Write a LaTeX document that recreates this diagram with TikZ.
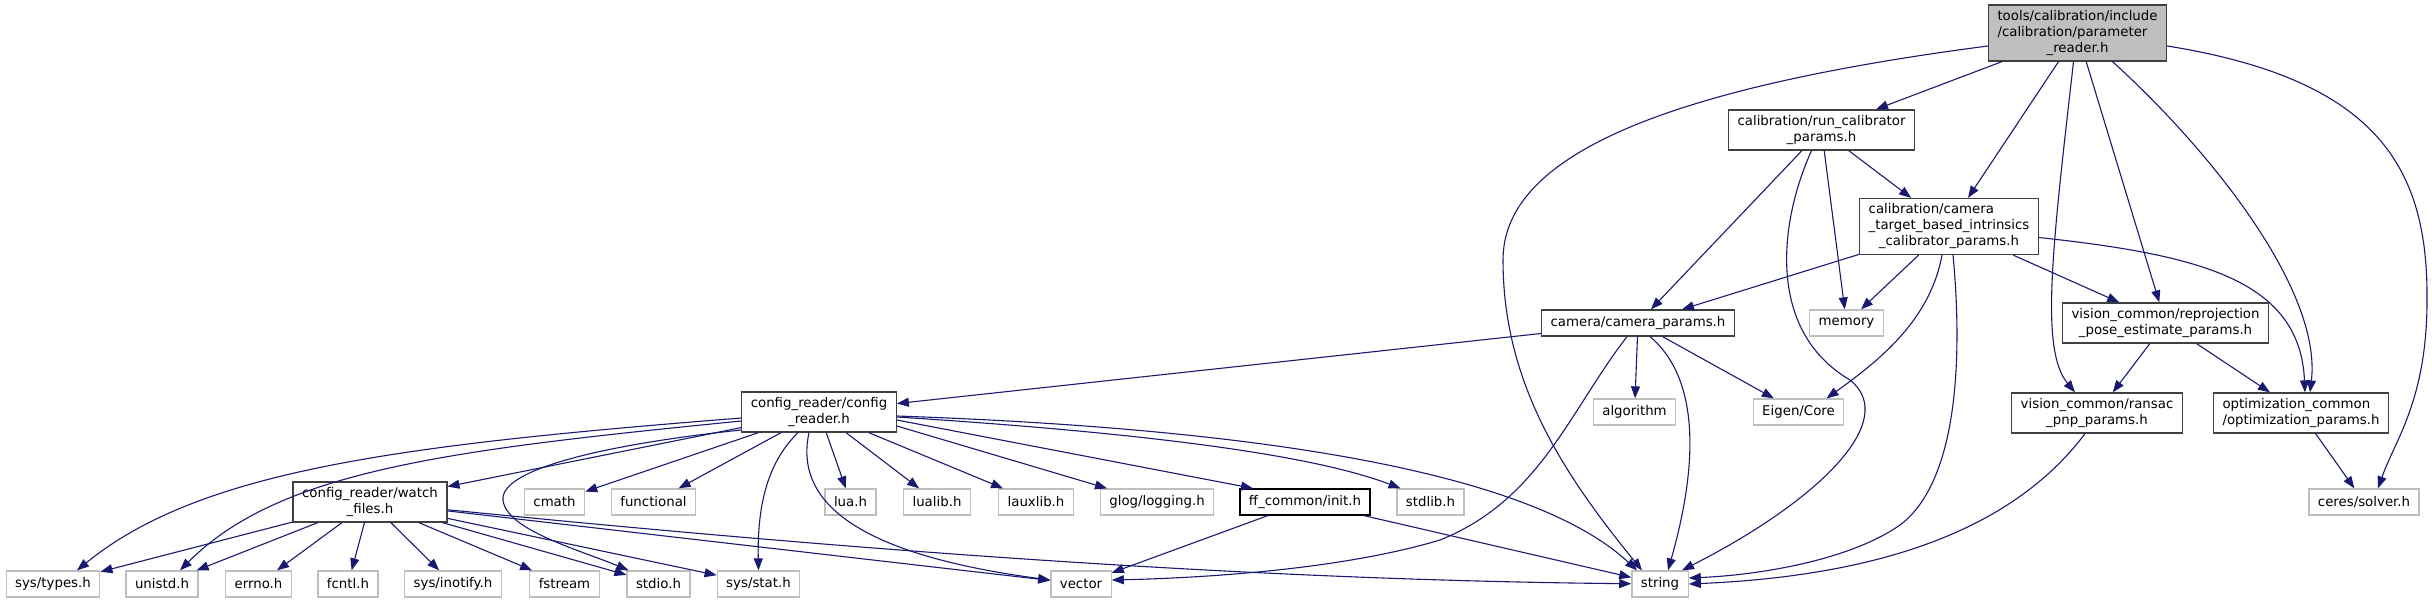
\documentclass[tikz,border=0pt]{standalone}
\usepackage{fontspec}
\setmainfont{DejaVu Sans}
\usetikzlibrary{arrows.meta,positioning}
\definecolor{edgeblue}{HTML}{191970}
\definecolor{extgray}{HTML}{BFBFBF}
\definecolor{docgray}{HTML}{404040}
\definecolor{mainfill}{HTML}{BFBFBF}
\newcommand{\hfont}{\fontsize{13.33}{16}\selectfont}
% all lines but the last left aligned, the last one centred
\newcommand{\flines}[2]{\begin{tabular}{@{}l@{}}#1\\\multicolumn{1}{@{}c@{}}{#2}\end{tabular}}
\tikzset{
  extfile/.style={
    draw = extgray,
    line width = 1.3pt,
    inner xsep = 9pt,
    inner ysep = 4pt,
    minimum height = 26pt,
    font = \hfont
  },
  docfile/.style={
    extfile,
    draw = docgray
  },
  mainfile/.style={
    docfile,
    fill = mainfill
  },
  inc/.style={
    draw = edgeblue,
    line width = 1.1pt,
    -{Triangle[length=12pt,width=9pt]}
  }
}
\begin{document}
\begin{tikzpicture}[x=1pt,y=-1pt]
        \useasboundingbox (0,0) rectangle (2432,603);
        \node[mainfile] (main) at (2077.5,33) {\flines{tools/calibration/include\\/calibration/parameter}{\_reader.h}};
        \node[docfile] (run) at (1821.5,130) {\flines{calibration/run\_calibrator}{\_params.h}};
        \node[docfile] (ctbi) at (1949,226.5) {\flines{calibration/camera\\\_target\_based\_intrinsics}{\_calibrator\_params.h}};
        \node[docfile] (cam) at (1638,323) {camera/camera\_params.h};
        \node[extfile] (memory) at (1846.5,323) {memory};
        \node[docfile] (reproj) at (2165.5,323) {\flines{vision\_common/reprojection}{\_pose\_estimate\_params.h}};
        \node[docfile] (cfg) at (819,412) {\flines{config\_reader/config}{\_reader.h}};
        \node[extfile] (algorithm) at (1634.5,412) {algorithm};
        \node[extfile] (eigen) at (1798.5,412) {Eigen/Core};
        \node[docfile] (ransac) at (2097,413) {\flines{vision\_common/ransac}{\_pnp\_params.h}};
        \node[docfile] (optim) at (2301,413) {\flines{optimization\_common}{/optimization\_params.h}};
        \node[docfile] (watch) at (370,502) {\flines{config\_reader/watch}{\_files.h}};
        \node[docfile, draw=black] (ffinit) at (1305,502) {ff\_common/init.h};
        \foreach \n/\x/\t in {cmath/554.5/cmath, functional/653.5/functional, lua/850.5/lua.h,
            lualib/937/lualib.h, lauxlib/1036/lauxlib.h, glog/1157/{glog/logging.h},
            stdlib/1430.5/stdlib.h, ceres/2364/{ceres/solver.h}}
            \node[extfile] (\n) at (\x,502) {\t};
        \foreach \n/\x/\t in {systypes/53/{sys/types.h}, unistd/162/unistd.h, errno/258.5/errno.h,
            fcntl/348/fcntl.h, inotify/453/{sys/inotify.h}, fstream/564.5/fstream, stdio/658.5/stdio.h,
            sysstat/758.5/{sys/stat.h}, vector/1081/vector, string/1660/string}
            \node[extfile] (\n) at (\x,584) {\t};

        \foreach \a/\b in {main/run, main/ctbi, main/reproj, run/cam, run/memory, run/ctbi,
            ctbi/cam, ctbi/memory, ctbi/reproj, cam/cfg, cam/algorithm, cam/eigen,
            reproj/ransac, reproj/optim, optim/ceres, cfg/watch, cfg/cmath, cfg/functional,
            cfg/lua, cfg/lualib, cfg/lauxlib, watch/systypes, watch/unistd, watch/errno,
            watch/fcntl, watch/inotify, watch/fstream, watch/stdio, watch/sysstat,
            watch/vector, ffinit/vector, ffinit/string}
            \draw[inc] (\a) -- (\b);
        \draw[inc] (watch) .. controls (850,550) and (1250,580) .. (string);

        \draw[inc] ([yshift=-13]main.west) .. controls (1650,90) and (1503,160) .. (1503,260)
            .. controls (1503,380) and (1560,470) .. ([xshift=-18]string.north);
        \draw[inc] ([xshift=-4]main.south) .. controls (2052,250) and (2040,350) .. ([xshift=-22]ransac.north);
        \draw[inc] ([xshift=35]main.south) .. controls (2210,150) and (2322,290) .. ([xshift=9]optim.north);
        \draw[inc] ([yshift=-13]main.east) .. controls (2380,80) and (2428,170) .. (2427,300)
            .. controls (2427,400) and (2395,440) .. ([xshift=14]ceres.north);
        \draw[inc] ([xshift=-10]run.south) .. controls (1780,220) and (1765,330) .. (1850,380)
            .. controls (1900,420) and (1820,500) .. ([xshift=22]string.north);
        \draw[inc] ([xshift=-7]ctbi.south) .. controls (1930,320) and (1880,360) .. ([xshift=28]eigen.north);
        \draw[inc] ([xshift=4]ctbi.south) .. controls (1962,350) and (1960,480) .. (1900,525)
            .. controls (1850,560) and (1760,575) .. ([yshift=6]string.east);
        \draw[inc] ([yshift=-11]ctbi.east) .. controls (2200,255) and (2300,280) .. ([xshift=4]optim.north);
        \draw[inc] ([xshift=-11]cam.south) .. controls (1570,410) and (1540,500) .. (1440,540)
            .. controls (1340,570) and (1200,578) .. ([yshift=4]vector.east);
        \draw[inc] ([xshift=12]cam.south) .. controls (1690,370) and (1705,440) .. ([xshift=8]string.north);
        \draw[inc] ([xshift=-12]ransac.south) .. controls (2020,520) and (1900,575) .. (string.east);

        \draw[inc] ([yshift=-6]cfg.west) .. controls (400,445) and (200,470) .. ([xshift=24]systypes.north);
        \draw[inc] ([yshift=-9]cfg.west) .. controls (450,450) and (280,470) .. ([xshift=18]unistd.north);
        \draw[inc] ([yshift=-18]cfg.west) .. controls (600,445) and (500,470) .. (503,500)
            .. controls (506,530) and (580,550) .. ([xshift=-30]stdio.north);
        \draw[inc] ([xshift=-21]cfg.south) .. controls (770,460) and (757,500) .. (sysstat.north);
        \draw[inc] ([xshift=-10]cfg.south) .. controls (790,520) and (900,560) .. ([yshift=4]vector.west);
        \draw[inc] ([yshift=-14]cfg.east) -- ([xshift=-50]glog.north);
        \draw[inc] ([yshift=-8]cfg.east) -- ([xshift=-52]ffinit.north);
        \draw[inc] ([yshift=-5]cfg.east) .. controls (1100,430) and (1300,450) .. ([xshift=-30]stdlib.north);
        \draw[inc] ([yshift=-4]cfg.east) .. controls (1300,430) and (1540,480) .. ([xshift=-23]string.north);
    \end{tikzpicture}
\end{document}
